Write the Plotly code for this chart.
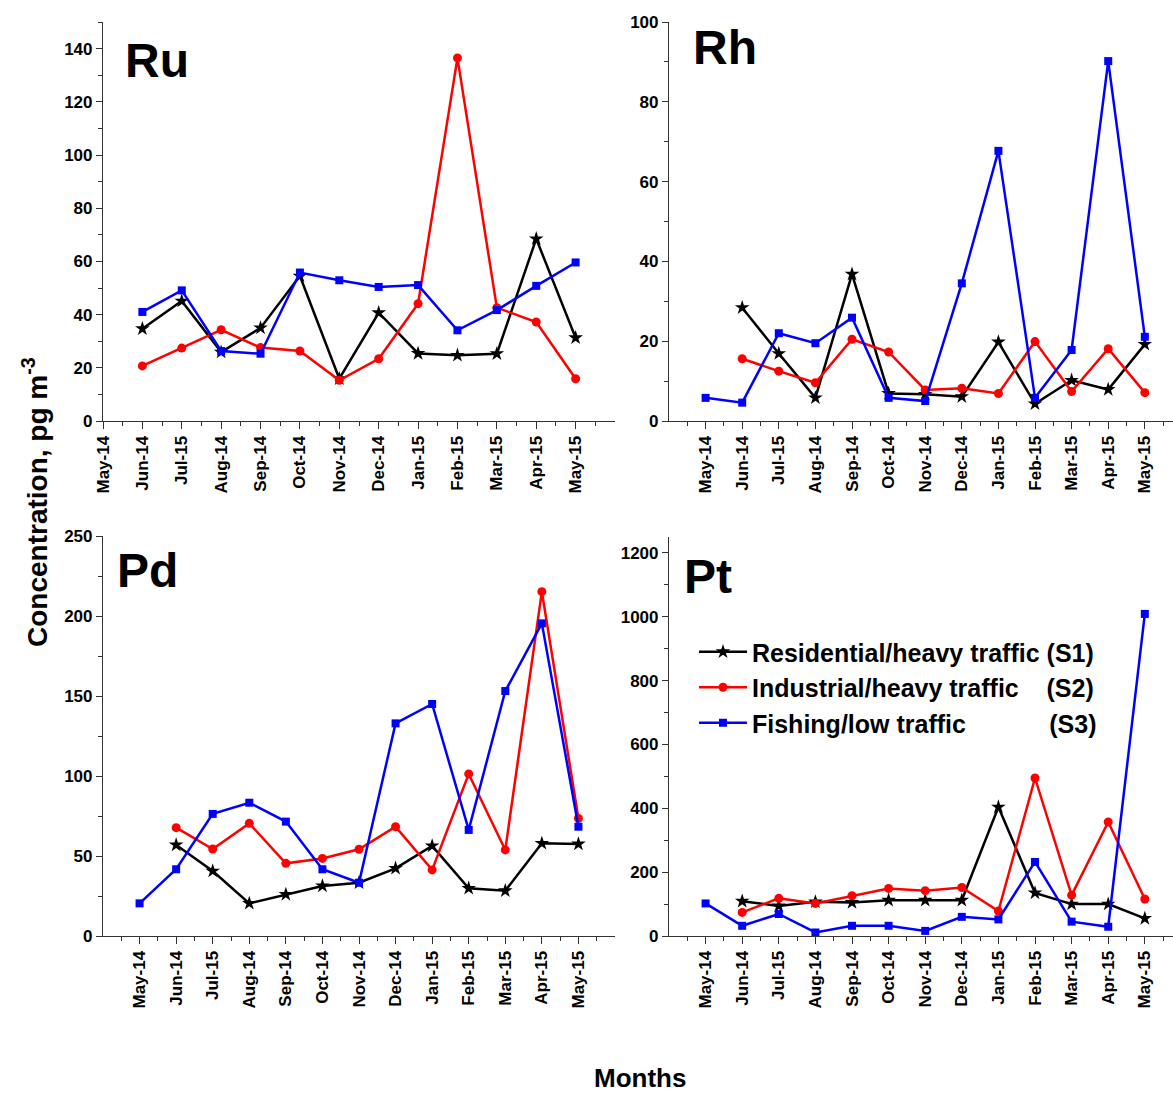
import plotly.graph_objects as go

W, H = 1173, 1093

months = ["May-14", "Jun-14", "Jul-15", "Aug-14", "Sep-14", "Oct-14", "Nov-14",
          "Dec-14", "Jan-15", "Feb-15", "Mar-15", "Apr-15", "May-15"]
x_idx = list(range(len(months)))

NB = "\u00a0"
series_names = ["Residential/heavy traffic" + NB + "(S1)",
                "Industrial/heavy traffic" + NB * 4 + "(S2)",
                "Fishing/low traffic" + NB * 12 + "(S3)"]

# Ru
ru_s1 = [None, 34.7, 45.1, 25.9, 35.0, 54.5, 15.9, 40.7, 25.4, 24.7, 25.3, 68.5, 31.3]
ru_s2 = [None, 20.7, 27.4, 34.3, 27.6, 26.3, 15.3, 23.4, 44.1, 136.5, 42.6, 37.2, 15.9]
ru_s3 = [None, 41.0, 49.1, 26.3, 25.3, 55.8, 52.9, 50.4, 51.1, 34.1, 41.7, 50.8, 59.6]

# Rh
rh_s1 = [None, 28.4, 16.9, 5.8, 36.8, 6.9, 6.7, 6.1, 19.8, 4.3, 10.2, 7.9, 19.2]
rh_s2 = [None, 15.6, 12.5, 9.6, 20.5, 17.3, 7.8, 8.2, 6.9, 19.9, 7.4, 18.1, 7.1]
rh_s3 = [5.8, 4.6, 22.0, 19.5, 25.9, 5.8, 5.0, 34.5, 67.7, 5.8, 17.8, 90.2, 21.1]

# Pd
pd_s1 = [None, 56.9, 40.6, 20.4, 26.0, 31.3, 33.3, 42.3, 56.3, 29.8, 28.3, 57.9, 57.5]
pd_s2 = [None, 67.7, 54.4, 70.4, 45.4, 48.5, 54.2, 68.3, 41.3, 101.3, 53.8, 215.2, 73.5]
pd_s3 = [20.4, 41.7, 76.3, 83.3, 71.5, 41.7, 33.3, 132.9, 145.0, 66.3, 153.1, 195.4, 68.3]

# Pt
pt_s1 = [None, 109, 94, 107, 105, 112, 112, 112, 404, 135, 100, 100, 55]
pt_s2 = [None, 74, 118, 102, 126, 149, 142, 152, 78, 495, 128, 357, 116]
pt_s3 = [102, 32, 69, 11, 32, 32, 16, 60, 52, 232, 45, 29, 1009]

colors = ["#000000", "#ff0000", "#0000ff"]
symbols = ["star", "circle", "square"]
msizes = [11, 9, 8]

panels = [
    dict(name="Ru", data=[ru_s1, ru_s2, ru_s3], xr=[0, 13], yr=[0, 150], dt=20, mdt=10,
         px=(103, 615), py=(22, 421), label_xy=(123, 60)),
    dict(name="Rh", data=[rh_s1, rh_s2, rh_s3], xr=[-1, 12.77], yr=[0, 100], dt=20, mdt=10,
         px=(669, 1173), py=(22, 421), label_xy=(691, 48)),
    dict(name="Pd", data=[pd_s1, pd_s2, pd_s3], xr=[-1, 13], yr=[0, 250], dt=50, mdt=25,
         px=(103, 615), py=(536, 936), label_xy=(115, 570)),
    dict(name="Pt", data=[pt_s1, pt_s2, pt_s3], xr=[-1, 12.77], yr=[0, 1250], dt=200, mdt=100,
         px=(669, 1173), py=(537, 936), label_xy=(682, 576)),
]

FONT = "Liberation Sans, Arial, sans-serif"

fig = go.Figure()
layout = dict(width=W, height=H, margin=dict(l=0, r=0, t=0, b=0, autoexpand=False),
              paper_bgcolor="white", plot_bgcolor="white", annotations=[])

for i, p in enumerate(panels):
    sfx = "" if i == 0 else str(i + 1)
    xa, ya = "x" + sfx, "y" + sfx
    for k in range(3):
        fig.add_trace(go.Scatter(
            x=x_idx, y=p["data"][k], xaxis=xa, yaxis=ya, mode="lines+markers",
            name=series_names[k], showlegend=(i == 3),
            line=dict(color=colors[k], width=2.5),
            marker=dict(symbol=symbols[k], size=msizes[k], color=colors[k]),
            connectgaps=False, cliponaxis=False))
    x0, x1 = p["px"]
    y0, y1 = p["py"]
    layout["xaxis" + sfx] = dict(
        domain=[x0 / W, x1 / W], range=p["xr"], anchor=ya, automargin=False,
        tickmode="array", tickvals=x_idx, ticktext=months, tickangle=-90,
        ticks="outside", ticklen=7, tickwidth=1, tickcolor="#333",
        showline=True, linecolor="#333", linewidth=1.2, showgrid=False, zeroline=False,
        tickfont=dict(family=FONT, size=17, color="black", weight="bold"),
        minor=dict(ticks="outside", ticklen=4, tickwidth=1, tickcolor="#333",
                   tick0=0.5, dtick=1, showgrid=False))
    layout["yaxis" + sfx] = dict(
        domain=[1 - y1 / H, 1 - y0 / H], range=p["yr"], anchor=xa, automargin=False,
        tickmode="linear", tick0=0, dtick=p["dt"],
        ticks="outside", ticklen=6, tickwidth=1, tickcolor="#333",
        showline=True, linecolor="#333", linewidth=1.2, showgrid=False, zeroline=False,
        tickfont=dict(family=FONT, size=17, color="black", weight="bold"),
        minor=dict(ticks="outside", ticklen=4, tickwidth=1, tickcolor="#333",
                   tick0=0, dtick=p["mdt"], showgrid=False))
    lx, ly = p["label_xy"]
    layout["annotations"].append(dict(
        text=p["name"], xref="paper", yref="paper", x=lx / W, y=1 - ly / H,
        xanchor="left", yanchor="middle", showarrow=False,
        font=dict(family=FONT, size=48, color="black", weight="bold")))

layout["annotations"].append(dict(
    text="Concentration, pg m<sup>-3</sup>", xref="paper", yref="paper",
    x=35 / W, y=1 - 502 / H, textangle=-90, showarrow=False,
    xanchor="center", yanchor="middle",
    font=dict(family=FONT, size=28, color="black", weight="bold")))
layout["annotations"].append(dict(
    text="Months", xref="paper", yref="paper", x=640 / W, y=1 - 1078 / H,
    showarrow=False, xanchor="center", yanchor="middle",
    font=dict(family=FONT, size=26, color="black", weight="bold")))

layout["legend"] = dict(x=694 / W, y=1 - 629 / H, xanchor="left", yanchor="top",
                        bgcolor="rgba(0,0,0,0)", tracegroupgap=0, itemwidth=48,
                        font=dict(family=FONT, size=25, color="black", weight="bold"))
layout["showlegend"] = True

fig.update_layout(**layout)
fig.write_html("out.html", config={"displayModeBar": False},
               post_script="document.body.style.margin='0';")
